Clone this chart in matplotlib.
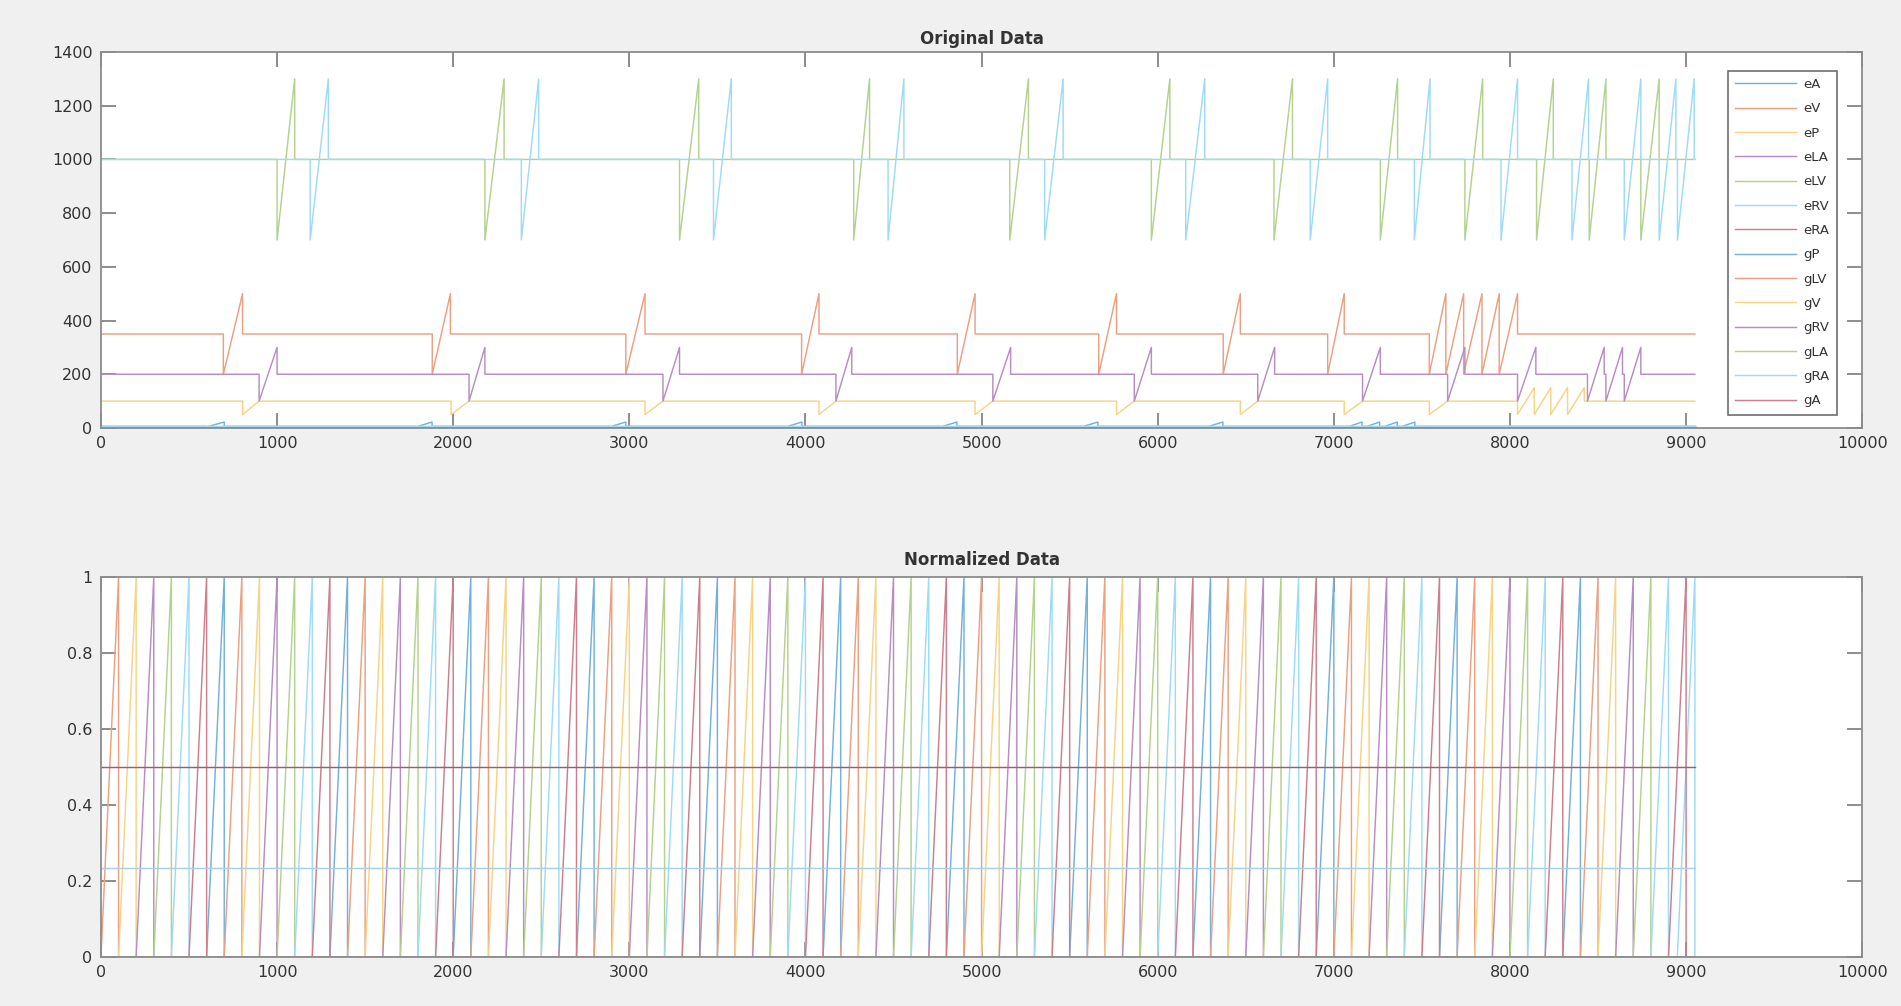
import numpy as np
import matplotlib
matplotlib.use('Agg')
import matplotlib.pyplot as plt
from matplotlib.colors import to_rgb

# ---------------- data ----------------
names = ['eA', 'eV', 'eP', 'eLA', 'eLV', 'eRV', 'eRA',
         'gP', 'gLV', 'gV', 'gRV', 'gLA', 'gRA', 'gA']

x_end = 9050

# top panel: (start, end) of each excursion
eV_base, eV_low, eV_high = 350, 200, 500
eV_events = [(695, 804), (1881, 1984), (2980, 3089), (3978, 4077), (4862, 4963),
             (5665, 5766), (6372, 6469), (6965, 7059), (7542, 7636), (7636, 7737),
             (7737, 7841), (7841, 7939), (7939, 8043)]

eP_base, eP_low, eP_high = 100, 50, 100
eP_events = [(804, 898), (1988, 2090), (3089, 3191), (4077, 4173), (4963, 5064),
             (5766, 5867), (6469, 6568), (7059, 7163), (7542, 7646)]
eP_burst_high = 150
eP_burst = [(8043, 8138), (8138, 8232), (8232, 8327), (8327, 8422)]

eLA_base, eLA_low, eLA_high = 200, 100, 300
eLA_events = [(898, 1000), (2090, 2180), (3191, 3285), (4173, 4263), (5064, 5165),
              (5867, 5964), (6568, 6664), (7163, 7264), (7646, 7744), (8043, 8147),
              (8440, 8535), (8545, 8639), (8649, 8743)]

eLV_base, eLV_low, eLV_high = 1000, 700, 1300
eLV_events = [(1000, 1100), (2180, 2289), (3285, 3394), (4274, 4364), (5160, 5266),
              (5964, 6069), (6660, 6765), (7264, 7362), (7744, 7845), (8151, 8246),
              (8450, 8545), (8743, 8847)]

eRV_base, eRV_low, eRV_high = 1000, 700, 1300
eRV_events = [(1188, 1291), (2387, 2485), (3478, 3579), (4469, 4559), (5358, 5463),
              (6159, 6267), (6866, 6965), (7457, 7546), (7949, 8043), (8352, 8446),
              (8649, 8743), (8847, 8942), (8951, 9046)]

eA_base, eA_low, eA_high = 6, 4, 22
eA_events = [(600, 700), (1790, 1880), (2890, 2980), (3890, 3980), (4770, 4860),
             (5570, 5660), (6280, 6370), (7080, 7160), (7180, 7260), (7280, 7360),
             (7380, 7460)]

# flat traces near zero
flat_top = {'eRA': 3, 'gP': 2, 'gLV': 4, 'gV': 6, 'gRV': 3, 'gLA': 5, 'gRA': 7, 'gA': 1}

# bottom panel: start of each 0->1 ramp
ramp_width = 100
norm_eV = [0, 700, 1400, 2100, 2800, 3500, 4200, 4900, 5600, 6300, 7000, 7700, 8400]
norm_eP = [100, 800, 1500, 2200, 2900, 3600, 4300, 5000, 5700, 6400, 7100, 7800, 8500]
norm_eLA = [200, 900, 1600, 2300, 3000, 3700, 4400, 5100, 5800, 6500, 7200, 7900, 8600]
norm_eLV = [300, 1000, 1700, 2400, 3100, 3800, 4500, 5200, 5900, 6600, 7300, 8000, 8700]
norm_eRV = [400, 1100, 1800, 2500, 3200, 3900, 4600, 5300, 6000, 6700, 7400, 8100, 8800, 8950]
norm_eRA = [500, 1200, 1900, 2600, 3300, 4000, 4700, 5400, 6100, 6800, 7500, 8200, 8900]
norm_eA = [600, 1300, 2000, 2700, 3400, 4100, 4800, 5500, 6200, 6900, 7600, 8300]
norm_flat = {'gP': 0, 'gLV': 0, 'gV': 0, 'gRV': 0, 'gLA': 0, 'gRA': 0.235, 'gA': 0.5}

top_xticks = [0, 1000, 2000, 3000, 4000, 5000, 6000, 7000, 8000, 9000, 10000]
top_yticks = [0, 200, 400, 600, 800, 1000, 1200, 1400]
bot_yticks = [0, 0.2, 0.4, 0.6, 0.8, 1]
bot_ylabels = ['0', '0.2', '0.4', '0.6', '0.8', '1']

# matlab default colour order, washed out like the screenshot
base_cols = ['#0072BD', '#D95319', '#EDB120', '#7E2F8E', '#77AC30', '#4DBEEE', '#A2142F']


def pale(c, f=0.55):
    r, g, b = to_rgb(c)
    return (1 - f + f * r, 1 - f + f * g, 1 - f + f * b)


colors = [pale(base_cols[i % 7]) for i in range(len(names))]


def spikes(base, events):
    # events: list of (start, end, low, high)
    xs = [0]
    ys = [base]
    for s, e, lo, hi in sorted(events):
        xs += [s, s, e, e]
        ys += [base, lo, hi, base]
    xs.append(x_end)
    ys.append(base)
    return xs, ys


def ramps(starts):
    xs = [0]
    ys = [0]
    for s in starts:
        xs += [s, s + ramp_width, s + ramp_width]
        ys += [0, 1, 0]
    xs.append(x_end)
    ys.append(0)
    return xs, ys


top = {}
top['eA'] = spikes(eA_base, [(s, e, eA_low, eA_high) for s, e in eA_events])
top['eV'] = spikes(eV_base, [(s, e, eV_low, eV_high) for s, e in eV_events])
top['eP'] = spikes(eP_base, [(s, e, eP_low, eP_high) for s, e in eP_events] +
                   [(s, e, eP_low, eP_burst_high) for s, e in eP_burst])
top['eLA'] = spikes(eLA_base, [(s, e, eLA_low, eLA_high) for s, e in eLA_events])
top['eLV'] = spikes(eLV_base, [(s, e, eLV_low, eLV_high) for s, e in eLV_events])
top['eRV'] = spikes(eRV_base, [(s, e, eRV_low, eRV_high) for s, e in eRV_events])
for k, v in flat_top.items():
    top[k] = ([0, x_end], [v, v])

bot = {'eV': ramps(norm_eV), 'eP': ramps(norm_eP), 'eLA': ramps(norm_eLA),
       'eLV': ramps(norm_eLV), 'eRV': ramps(norm_eRV), 'eRA': ramps(norm_eRA),
       'eA': ramps(norm_eA)}
for k, v in norm_flat.items():
    bot[k] = ([0, x_end], [v, v])

# ---------------- figure ----------------
fig = plt.figure(figsize=(19.01, 10.06), dpi=100, facecolor='#f0f0f0')
ax1 = fig.add_axes([0.0531, 0.5746, 0.9265, 0.3737])
ax2 = fig.add_axes([0.0531, 0.0487, 0.9265, 0.3777])

for ax in (ax1, ax2):
    ax.set_facecolor('white')
    for sp in ax.spines.values():
        sp.set_color('#8c8c8c')
        sp.set_linewidth(1.3)
    ax.tick_params(direction='in', length=11, width=1.1, color='#6e6e6e',
                   top=True, right=True, labelsize=11.5, labelcolor='#333333', pad=6)
    ax.set_xlim(0, 10000)
    ax.set_xticks(top_xticks)

for i, n in enumerate(names):
    xs, ys = top[n]
    ax1.plot(xs, ys, color=colors[i], lw=1.05, label=n)
    xs, ys = bot[n]
    c = colors[i]
    if n == 'gA':
        c = '#906274'
    elif n == 'gRA':
        c = '#a9cfe0'
    ax2.plot(xs, ys, color=c, lw=1.05)

ax1.set_ylim(0, 1400)
ax1.set_yticks(top_yticks)
ax2.set_ylim(0, 1)
ax2.set_yticks(bot_yticks)
ax2.set_yticklabels(bot_ylabels)

ax1.set_title('Original Data', fontsize=12, fontweight='bold', color='#333333', pad=6)
ax2.set_title('Normalized Data', fontsize=12, fontweight='bold', color='#333333', pad=9)

leg = ax1.legend(loc='upper right', bbox_to_anchor=(0.9895, 0.968), fontsize=9.5,
                 handlelength=4.6, labelspacing=0.86, handletextpad=0.6,
                 borderpad=0.55, fancybox=False, framealpha=1, edgecolor='#6e6e6e')
leg.get_frame().set_linewidth(1.2)
for t in leg.get_texts():
    t.set_color('#333333')

fig.savefig('out.png', dpi=100, facecolor=fig.get_facecolor())
